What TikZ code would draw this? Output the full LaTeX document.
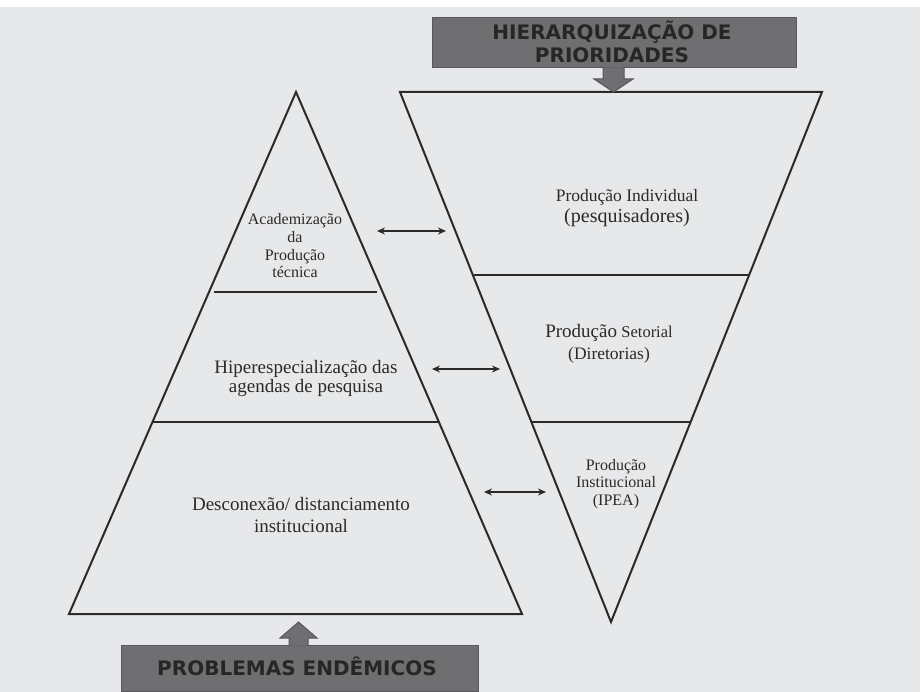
\documentclass[tikz,border=0pt]{standalone}
\usepackage{fontspec}
\setmainfont{Liberation Serif}
\newfontfamily\boxfont{DejaVu Sans}
\usetikzlibrary{arrows.meta}
\definecolor{bg}{HTML}{E7E8EA}
\definecolor{boxfill}{HTML}{6F6F71}
\definecolor{boxline}{HTML}{58585A}
\definecolor{boxtext}{HTML}{262626}
\definecolor{ink}{HTML}{2A2A2A}
\begin{document}
\begin{tikzpicture}[x=1pt,y=-1pt,
  shapeline/.style={draw=ink, line width=2pt, line join=miter},
  divider/.style={draw=ink, line width=1.7pt},
  link/.style={draw=ink, line width=1.6pt, {Stealth[length=8pt,width=7pt]}-{Stealth[length=8pt,width=7pt]}},
  banner/.style={fill=boxfill, draw=boxline, line width=1pt},
  bannertext/.style={text=boxtext, font=\boxfont\bfseries\fontsize{20}{23}\selectfont, align=center, inner sep=0pt, anchor=base},
  lbl/.style={text=ink, align=center, inner sep=0pt, anchor=base},
]
\useasboundingbox (0,0) rectangle (921,692);
\fill[white] (0,0) rectangle (921,692);
\fill[bg] (0,7) rectangle (920,692);

% left triangle
\coordinate (LA) at (296,92);
\coordinate (LL) at (69,614);
\coordinate (LR) at (522,614);
\draw[shapeline] (LA) -- (LR) -- (LL) -- cycle;
% right (inverted) triangle
\coordinate (RL) at (400,92);
\coordinate (RR) at (822,92);
\coordinate (RT) at (611,622);
\draw[shapeline] (RL) -- (RR) -- (RT) -- cycle;

% dividers
\draw[divider] (214,292) -- (377,292);
\draw[divider] (152,422) -- (439,422);
\draw[divider] (473,275) -- (749,275);
\draw[divider] (531,422) -- (691,422);

% top banner
\draw[banner] (432,18) rectangle (796,68);
\path[banner] (603,67.5) -- (603,79) -- (594,79) -- (613.5,92) -- (633,79) -- (624,79) -- (624,67.5);
\node[bannertext] (top) at (612,63) {HIERARQUIZAÇÃO DE\\PRIORIDADES};

% bottom banner
\draw[banner] (121,645) rectangle (478,691);
\path[banner] (289,645.5) -- (289,638) -- (280,638) -- (298.5,622) -- (317,638) -- (308,638) -- (308,645.5);
\node[bannertext] (bottom) at (297,675) {PROBLEMAS ENDÊMICOS};

% left labels
\node[lbl, font=\fontsize{16}{17.7}\selectfont] (acad) at (295,278) {Academização\\da\\Produção\\técnica};
\node[lbl, font=\fontsize{19}{20}\selectfont] (hiper) at (306,393) {Hiperespecialização das\\agendas de pesquisa};
\node[lbl, font=\fontsize{19}{22}\selectfont] (desc) at (301,532) {Desconexão/ distanciamento\\institucional};

% right labels
\node[lbl, font=\fontsize{17.5}{21}\selectfont] (indiv) at (627,223) {Produção Individual\\{\fontsize{20}{21}\selectfont (pesquisadores)}};
\node[lbl, font=\fontsize{17.5}{22}\selectfont] (setor) at (609,360) {{\fontsize{19}{22}\selectfont Produção} {\fontsize{16.5}{22}\selectfont Setorial}\\(Diretorias)};
\node[lbl, font=\fontsize{16}{17.5}\selectfont] (inst) at (616,505) {Produção\\Institucional\\(IPEA)};

% links
\coordinate (l1a) at (377,231); \coordinate (l1b) at (446,231);
\coordinate (l2a) at (432,369); \coordinate (l2b) at (500,369);
\coordinate (l3a) at (484,492); \coordinate (l3b) at (546,492);
\draw[link] (l1a) -- (l1b);
\draw[link] (l2a) -- (l2b);
\draw[link] (l3a) -- (l3b);
\end{tikzpicture}
\end{document}
